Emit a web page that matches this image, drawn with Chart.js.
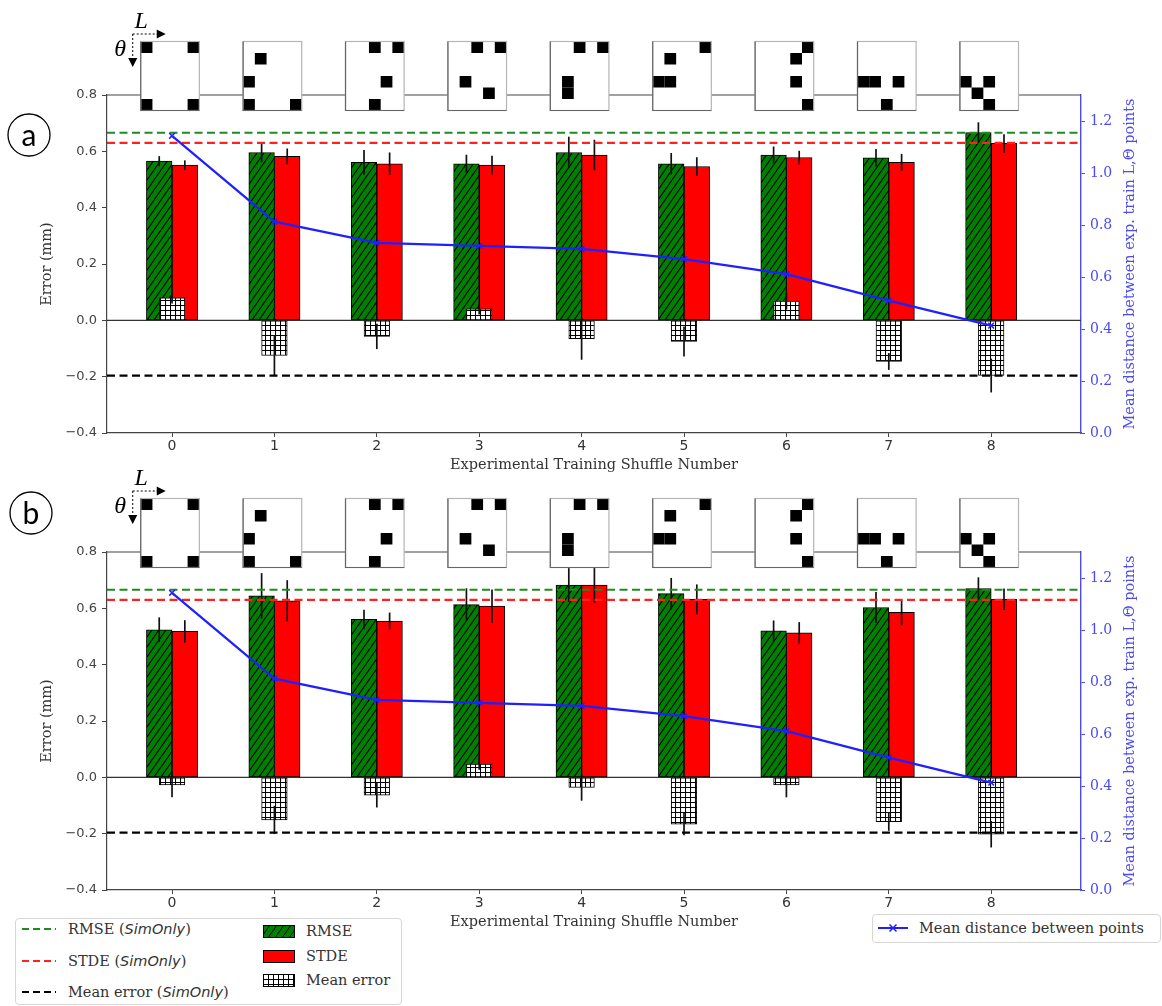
<!DOCTYPE html>
<html>
<head>
<meta charset="utf-8">
<script src="https://cdn.jsdelivr.net/npm/chart.js@4.4.0/dist/chart.umd.min.js"></script>
<style>
  html, body { margin: 0; padding: 0; background: #fff; }
  #fig { position: relative; width: 1162px; height: 1006px; overflow: hidden; background: #fff; }
  .panel { position: absolute; left: 0; width: 1162px; height: 480px; }
  #panelA { top: 0; }
  #panelB { top: 457px; }
  .legend { position: absolute; background: #fff; border: 1px solid #d6d6d6; border-radius: 4px;
            font-family: "DejaVu Serif", serif; font-size: 14.5px; color: #333; }
  .item { position: absolute; white-space: nowrap; line-height: 16px; }
  .item i { font-family: "DejaVu Sans", sans-serif; font-style: italic; }
  .sw { position: absolute; }
</style>
</head>
<body>
<div id="fig">
  <canvas id="panelA" class="panel" width="1162" height="480"></canvas>
  <canvas id="panelB" class="panel" width="1162" height="480"></canvas>

  <div class="legend" style="left:15px; top:918px; width:385px; height:85px;">
    <svg class="sw" style="left:6px; top:5px;" width="34" height="10"><line x1="0" y1="5" x2="34" y2="5" stroke="#1f8a1f" stroke-width="2.2" stroke-dasharray="7,4"/></svg>
    <div class="item" style="left:52px; top:2px;">RMSE (<i>SimOnly</i>)</div>
    <svg class="sw" style="left:6px; top:37px;" width="34" height="10"><line x1="0" y1="5" x2="34" y2="5" stroke="#ff2020" stroke-width="2.2" stroke-dasharray="7,4"/></svg>
    <div class="item" style="left:52px; top:34px;">STDE (<i>SimOnly</i>)</div>
    <svg class="sw" style="left:6px; top:68px;" width="34" height="10"><line x1="0" y1="5" x2="34" y2="5" stroke="#000" stroke-width="2.2" stroke-dasharray="7,4"/></svg>
    <div class="item" style="left:52px; top:65px;">Mean error (<i>SimOnly</i>)</div>

    <svg class="sw" style="left:247px; top:6px;" width="32" height="13">
      <defs><pattern id="lgDiag" width="7" height="10" patternUnits="userSpaceOnUse"><rect width="7" height="10" fill="#008000"/><path d="M0,10 L7,0" stroke="#000" stroke-width="1"/></pattern></defs>
      <rect x="0.5" y="0.5" width="31" height="12" fill="url(#lgDiag)" stroke="#000"/>
    </svg>
    <div class="item" style="left:290px; top:4px;">RMSE</div>
    <svg class="sw" style="left:247px; top:31px;" width="32" height="13"><rect x="0.5" y="0.5" width="31" height="12" fill="#ff0000" stroke="#000"/></svg>
    <div class="item" style="left:290px; top:29px;">STDE</div>
    <svg class="sw" style="left:247px; top:55px;" width="32" height="13">
      <defs><pattern id="lgGrid" width="5" height="5" patternUnits="userSpaceOnUse"><rect width="5" height="5" fill="#fff"/><path d="M0,0.5 H5 M0.5,0 V5" stroke="#000" stroke-width="1"/></pattern></defs>
      <rect x="0.5" y="0.5" width="31" height="12" fill="url(#lgGrid)" stroke="#000"/>
    </svg>
    <div class="item" style="left:290px; top:53px;">Mean error</div>
  </div>

  <div class="legend" style="left:872px; top:914px; width:287px; height:27px;">
    <svg class="sw" style="left:5px; top:7px;" width="30" height="12">
      <line x1="0" y1="6" x2="30" y2="6" stroke="#2020ff" stroke-width="2"/>
      <path d="M11.5,2.5 L18.5,9.5 M18.5,2.5 L11.5,9.5" stroke="#2020ff" stroke-width="1.5"/>
    </svg>
    <div class="item" style="left:46px; top:5px;">Mean distance between points</div>
  </div>
</div>

<script>
// Shuffle numbers on the x axis and the tick values of both y axes
const shuffles = [0, 1, 2, 3, 4, 5, 6, 7, 8];
const errorTicks = [-0.4, -0.2, 0.0, 0.2, 0.4, 0.6, 0.8];
const distTicks = [0.0, 0.2, 0.4, 0.6, 0.8, 1.0, 1.2];

// Panel (a)
const rmseA       = [0.565, 0.596, 0.561, 0.556, 0.596, 0.556, 0.587, 0.577, 0.667];
const rmseErrA    = [0.018, 0.035, 0.044, 0.032, 0.056, 0.038, 0.030, 0.031, 0.036];
const stdeA       = [0.551, 0.582, 0.556, 0.551, 0.587, 0.546, 0.578, 0.561, 0.628];
const stdeErrA    = [0.017, 0.028, 0.040, 0.033, 0.054, 0.033, 0.024, 0.030, 0.033];
const meanErrA    = [0.080, -0.125, -0.057, 0.041, -0.065, -0.075, 0.068, -0.146, -0.196];
const meanErrErrA = [0.020, 0.070, 0.045, 0.020, 0.075, 0.053, 0.030, 0.030, 0.060];

// Panel (b)
const rmseB       = [0.524, 0.644, 0.561, 0.613, 0.683, 0.652, 0.520, 0.603, 0.670];
const rmseErrB    = [0.044, 0.081, 0.034, 0.058, 0.060, 0.056, 0.037, 0.055, 0.040];
const stdeB       = [0.518, 0.627, 0.555, 0.608, 0.683, 0.632, 0.513, 0.586, 0.632];
const stdeErrB    = [0.040, 0.073, 0.030, 0.059, 0.063, 0.053, 0.038, 0.046, 0.038];
const meanErrB    = [-0.027, -0.151, -0.063, 0.047, -0.036, -0.166, -0.027, -0.157, -0.202];
const meanErrErrB = [0.044, 0.050, 0.044, 0.020, 0.047, 0.040, 0.044, 0.033, 0.047];

// Mean distance between experimental training points (right axis), both panels
const meanDistance = [1.143, 0.813, 0.731, 0.720, 0.708, 0.669, 0.611, 0.509, 0.413];

// Simulation-only reference levels
const simOnlyRmse = 0.666;
const simOnlyStde = 0.630;
const simOnlyMeanErr = -0.196;

// Occupied cells [column, row] of the 5x6 L-theta grid for each shuffle
const shuffleCells = [
  [[0,0],[4,0],[0,5],[4,5]],
  [[1,1],[0,3],[0,5],[4,5]],
  [[2,0],[4,0],[3,3],[2,5]],
  [[2,0],[4,0],[1,3],[3,4]],
  [[2,0],[4,0],[1,3],[1,4]],
  [[4,0],[1,1],[0,3],[1,3]],
  [[4,0],[3,1],[3,3],[4,5]],
  [[0,3],[1,3],[3,3],[2,5]],
  [[0,3],[2,3],[1,4],[2,5]]
];

const BLUE = '#2020ff';
const AXIS_BLUE = '#4b4bef';
const BAR_W = 25.6;

function hatch(kind) {
  const c = document.createElement('canvas');
  const w = kind === 'diag' ? 7 : 5, h = kind === 'diag' ? 10 : 5;
  c.width = w; c.height = h;
  const g = c.getContext('2d');
  g.fillStyle = kind === 'diag' ? '#008000' : '#ffffff';
  g.fillRect(0, 0, w, h);
  g.strokeStyle = '#000'; g.lineWidth = 1.1;
  g.beginPath();
  if (kind === 'diag') {
    g.moveTo(0, h); g.lineTo(w, 0);
    g.moveTo(-w, h); g.lineTo(0, 0);
    g.moveTo(w, h); g.lineTo(2 * w, 0);
  } else {
    g.moveTo(0, 0.5); g.lineTo(w, 0.5);
    g.moveTo(0.5, 0); g.lineTo(0.5, h);
  }
  g.stroke();
  return g.createPattern(c, 'repeat');
}
const diagPattern = hatch('diag');
const gridPattern = hatch('grid');

const fmt = v => (Math.round(v * 10) / 10).toFixed(1).replace('-', '\u2212');
const xy = vals => shuffles.map((s, i) => ({ x: s, y: vals[i] }));

const panelPlugin = {
  id: 'panelDecor',
  beforeDatasetsDraw(chart) {
    const { ctx, chartArea: a, scales } = chart;
    ctx.save();
    ctx.strokeStyle = '#333'; ctx.lineWidth = 1.2;
    const y0 = scales.y.getPixelForValue(0);
    ctx.beginPath(); ctx.moveTo(a.left, y0); ctx.lineTo(a.right, y0); ctx.stroke();
    ctx.strokeStyle = '#444';
    ctx.beginPath(); ctx.moveTo(a.left, a.top); ctx.lineTo(a.right, a.top); ctx.stroke();
    ctx.restore();
  },
  afterDatasetDraw(chart, args) {
    const ds = chart.data.datasets[args.index];
    const { ctx, chartArea: a, scales } = chart;
    if (ds.errors) {
      const ys = scales.y;
      ctx.save();
      ctx.strokeStyle = '#111'; ctx.lineWidth = 1.7;
      args.meta.data.forEach((el, i) => {
        const v = ds.data[i].y, e = ds.errors[i];
        ctx.beginPath();
        ctx.moveTo(el.x, ys.getPixelForValue(v + e));
        ctx.lineTo(el.x, ys.getPixelForValue(v - e));
        ctx.stroke();
      });
      ctx.restore();
    }
    if (ds.label === 'Mean error') {
      const refs = [[simOnlyRmse, '#1f8a1f'], [simOnlyStde, '#ff2020'], [simOnlyMeanErr, '#000']];
      ctx.save();
      ctx.lineWidth = 2.2; ctx.setLineDash([8, 4.5]);
      refs.forEach(([v, col]) => {
        const y = scales.y.getPixelForValue(v);
        ctx.strokeStyle = col;
        ctx.beginPath(); ctx.moveTo(a.left, y); ctx.lineTo(a.right, y); ctx.stroke();
      });
      ctx.restore();
    }
  },
  afterDraw(chart) {
    const { ctx, chartArea: a, scales } = chart;
    const opts = chart.options.plugins.panelDecor;
    ctx.save();
    // shuffle layouts above the plot
    const bw = 58.6, bh = 69, cw = bw / 5, ch = bh / 6;
    const top = a.top - 53.5;
    let firstLeft = 0;
    shuffles.forEach((s, i) => {
      const cx = scales.x.getPixelForValue(s) - 2;
      const left = cx - bw / 2;
      if (i === 0) firstLeft = left;
      ctx.fillStyle = '#fff';
      ctx.fillRect(left, top, bw, bh);
      ctx.fillStyle = '#000';
      shuffleCells[i].forEach(([c, r]) => ctx.fillRect(left + c * cw, top + r * ch, cw, ch));
      ctx.strokeStyle = '#b5b5b5'; ctx.lineWidth = 1.2;
      ctx.strokeRect(left, top, bw, bh);
      ctx.strokeStyle = '#666';
      ctx.beginPath(); ctx.moveTo(left, top); ctx.lineTo(left, top + bh); ctx.lineTo(left + bw, top + bh); ctx.stroke();
    });
    // L / theta direction arrows
    const ox = firstLeft - 8, oy = top - 7.5;
    ctx.strokeStyle = '#000'; ctx.lineWidth = 1; ctx.setLineDash([2, 2]);
    ctx.beginPath(); ctx.moveTo(ox, oy); ctx.lineTo(ox + 25, oy); ctx.stroke();
    ctx.beginPath(); ctx.moveTo(ox, oy); ctx.lineTo(ox, oy + 26); ctx.stroke();
    ctx.setLineDash([]);
    ctx.fillStyle = '#000';
    ctx.beginPath(); ctx.moveTo(ox + 33, oy); ctx.lineTo(ox + 24, oy - 4.5); ctx.lineTo(ox + 24, oy + 4.5); ctx.closePath(); ctx.fill();
    ctx.beginPath(); ctx.moveTo(ox, oy + 33); ctx.lineTo(ox - 4.5, oy + 24); ctx.lineTo(ox + 4.5, oy + 24); ctx.closePath(); ctx.fill();
    ctx.font = 'italic 24px "Liberation Serif"';
    ctx.textAlign = 'center'; ctx.textBaseline = 'middle';
    ctx.fillText('L', ox + 8.5, oy - 12);
    ctx.fillText('\u03b8', ox - 12.5, oy + 16);
    // panel letter
    ctx.lineWidth = 1.3; ctx.strokeStyle = '#000';
    ctx.beginPath(); ctx.arc(opts.circleX, opts.circleY, 21, 0, Math.PI * 2); ctx.stroke();
    ctx.font = '30px Lato';
    ctx.fillText(opts.letter, opts.circleX, opts.circleY + 1);
    // axis titles
    ctx.fillStyle = '#333';
    ctx.font = '14.5px "DejaVu Serif"';
    ctx.fillText('Experimental Training Shuffle Number', (a.left + a.right) / 2, a.bottom + 32);
    ctx.save();
    ctx.translate(47, (a.top + a.bottom) / 2); ctx.rotate(-Math.PI / 2);
    ctx.fillText('Error (mm)', 0, 0);
    ctx.restore();
    ctx.save();
    ctx.fillStyle = AXIS_BLUE;
    ctx.font = '14.5px "DejaVu Serif"';
    ctx.translate(1130, (a.top + a.bottom) / 2); ctx.rotate(-Math.PI / 2);
    ctx.fillText('Mean distance between exp. train L,\u0398 points', 0, 0);
    ctx.restore();
    ctx.restore();
  }
};

function buildPanel(id, letter, circleX, circleY, rmse, rmseErr, stde, stdeErr, meanErr, meanErrErr) {
  return new Chart(document.getElementById(id), {
    type: 'bar',
    data: {
      datasets: [
        { type: 'line', label: 'Mean distance between points', data: xy(meanDistance), yAxisID: 'y1',
          borderColor: BLUE, backgroundColor: BLUE, borderWidth: 2.2, pointStyle: 'crossRot',
          pointRadius: 4, pointBorderWidth: 1.6, tension: 0, order: 0 },
        { label: 'Mean error', data: xy(meanErr), errors: meanErrErr, yAxisID: 'y',
          backgroundColor: gridPattern, borderColor: '#000', borderWidth: 1, borderSkipped: false,
          grouped: false, barThickness: BAR_W, order: 1 },
        { label: 'RMSE', data: xy(rmse), errors: rmseErr, yAxisID: 'y', stack: 'rmse',
          backgroundColor: diagPattern, borderColor: '#000', borderWidth: 1, borderSkipped: false,
          barThickness: BAR_W, order: 2 },
        { label: 'STDE', data: xy(stde), errors: stdeErr, yAxisID: 'y', stack: 'stde',
          backgroundColor: '#ff0000', borderColor: '#000', borderWidth: 1, borderSkipped: false,
          barThickness: BAR_W, order: 3 }
      ]
    },
    options: {
      responsive: false,
      animation: false,
      devicePixelRatio: 1,
      layout: { padding: { top: 95, left: 0, right: 0, bottom: 0 } },
      plugins: {
        legend: { display: false },
        tooltip: { enabled: false },
        panelDecor: { letter, circleX, circleY }
      },
      scales: {
        x: {
          type: 'linear', min: -0.635, max: 8.877, offset: false,
          afterBuildTicks: ax => { ax.ticks = shuffles.map(v => ({ value: v })); },
          afterFit: ax => { ax.height = 47; },
          ticks: { autoSkip: false, maxRotation: 0, padding: 1, color: '#333',
                   font: { family: 'DejaVu Sans', size: 14 }, callback: v => String(v) },
          grid: { offset: false, drawOnChartArea: false, tickLength: 4, tickColor: '#444' },
          border: { display: true, color: '#444', width: 1.2 }
        },
        y: {
          position: 'left', min: -0.4, max: 0.8,
          afterBuildTicks: ax => { ax.ticks = errorTicks.map(v => ({ value: v })); },
          afterFit: ax => { ax.width = 107; },
          ticks: { padding: 5, color: '#444', font: { family: 'DejaVu Sans', size: 13 }, callback: v => fmt(v) },
          grid: { drawOnChartArea: false, tickLength: 5, tickColor: '#444' },
          border: { display: true, color: '#444', width: 1.2 }
        },
        y1: {
          position: 'right', min: 0, max: 1.3,
          afterBuildTicks: ax => { ax.ticks = distTicks.map(v => ({ value: v })); },
          afterFit: ax => { ax.width = 81; },
          ticks: { padding: 5, color: AXIS_BLUE, font: { family: 'DejaVu Serif', size: 14 }, callback: v => fmt(v) },
          grid: { drawOnChartArea: false, tickLength: 4, tickColor: AXIS_BLUE },
          border: { display: true, color: AXIS_BLUE, width: 1.4 }
        }
      }
    },
    plugins: [panelPlugin]
  });
}

buildPanel('panelA', 'a', 29, 135, rmseA, rmseErrA, stdeA, stdeErrA, meanErrA, meanErrErrA);
buildPanel('panelB', 'b', 31, 56, rmseB, rmseErrB, stdeB, stdeErrB, meanErrB, meanErrErrB);
</script>
</body>
</html>
